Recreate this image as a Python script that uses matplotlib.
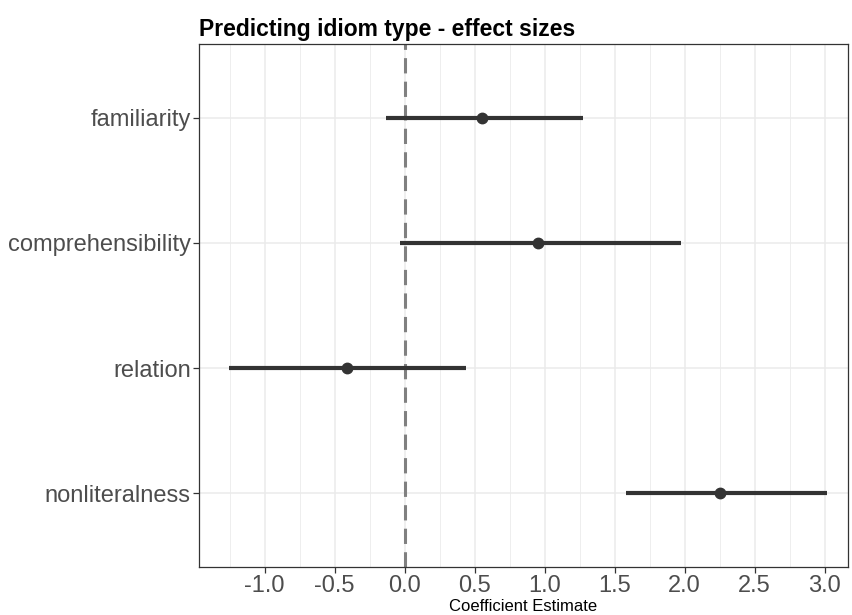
import matplotlib
matplotlib.use("Agg")
import matplotlib.pyplot as plt
import numpy as np

plt.rcParams['font.family'] = ['Liberation Sans', 'DejaVu Sans']

# coefficient estimates with interval bounds (bottom to top)
terms = ['nonliteralness', 'relation', 'comprehensibility', 'familiarity']
estimate = [2.25, -0.41, 0.955, 0.55]
lower = [1.58, -1.255, -0.03, -0.135]
upper = [3.02, 0.44, 1.975, 1.275]

fig = plt.figure(figsize=(8.53, 6.15), dpi=100)
ax = fig.add_axes([0.2333, 0.078, 0.7608, 0.8505])

ypos = np.arange(1, len(terms) + 1)

ax.set_xlim(-1.468, 3.167)
ax.set_ylim(0.41, 4.59)

# grid like theme_bw
ax.set_xticks(np.arange(-1.0, 3.01, 0.5))
ax.set_xticks(np.arange(-1.25, 3.2, 0.5), minor=True)
ax.set_yticks(ypos)
ax.set_yticklabels(terms)
ax.grid(which='major', color='#EBEBEB', linewidth=1.1, zorder=0)
ax.grid(which='minor', axis='x', color='#EBEBEB', linewidth=0.6, zorder=0)
ax.tick_params(which='minor', length=0)
ax.tick_params(which='major', length=4, width=0.9, color='#333333',
               labelsize=17, labelcolor='#4D4D4D', pad=2)
ax.set_xticklabels(['%.1f' % v for v in np.arange(-1.0, 3.01, 0.5)])
ax.set_axisbelow(True)
for s in ax.spines.values():
    s.set_color('#333333')
    s.set_linewidth(0.9)

ax.axvline(0, color='#808080', linestyle=(0, (5, 2.7)), linewidth=2.2, zorder=2)

ax.hlines(ypos, lower, upper, color='#333333', linewidth=3, zorder=3)
ax.plot(estimate, ypos, 'o', color='#333333', markersize=7.5, zorder=4)

ax.set_xlabel('Coefficient Estimate', fontsize=12, labelpad=1)
ax.set_title('Predicting idiom type - effect sizes', loc='left',
             fontsize=16.5, fontweight='bold', pad=6)

fig.savefig('out.png', dpi=100)
